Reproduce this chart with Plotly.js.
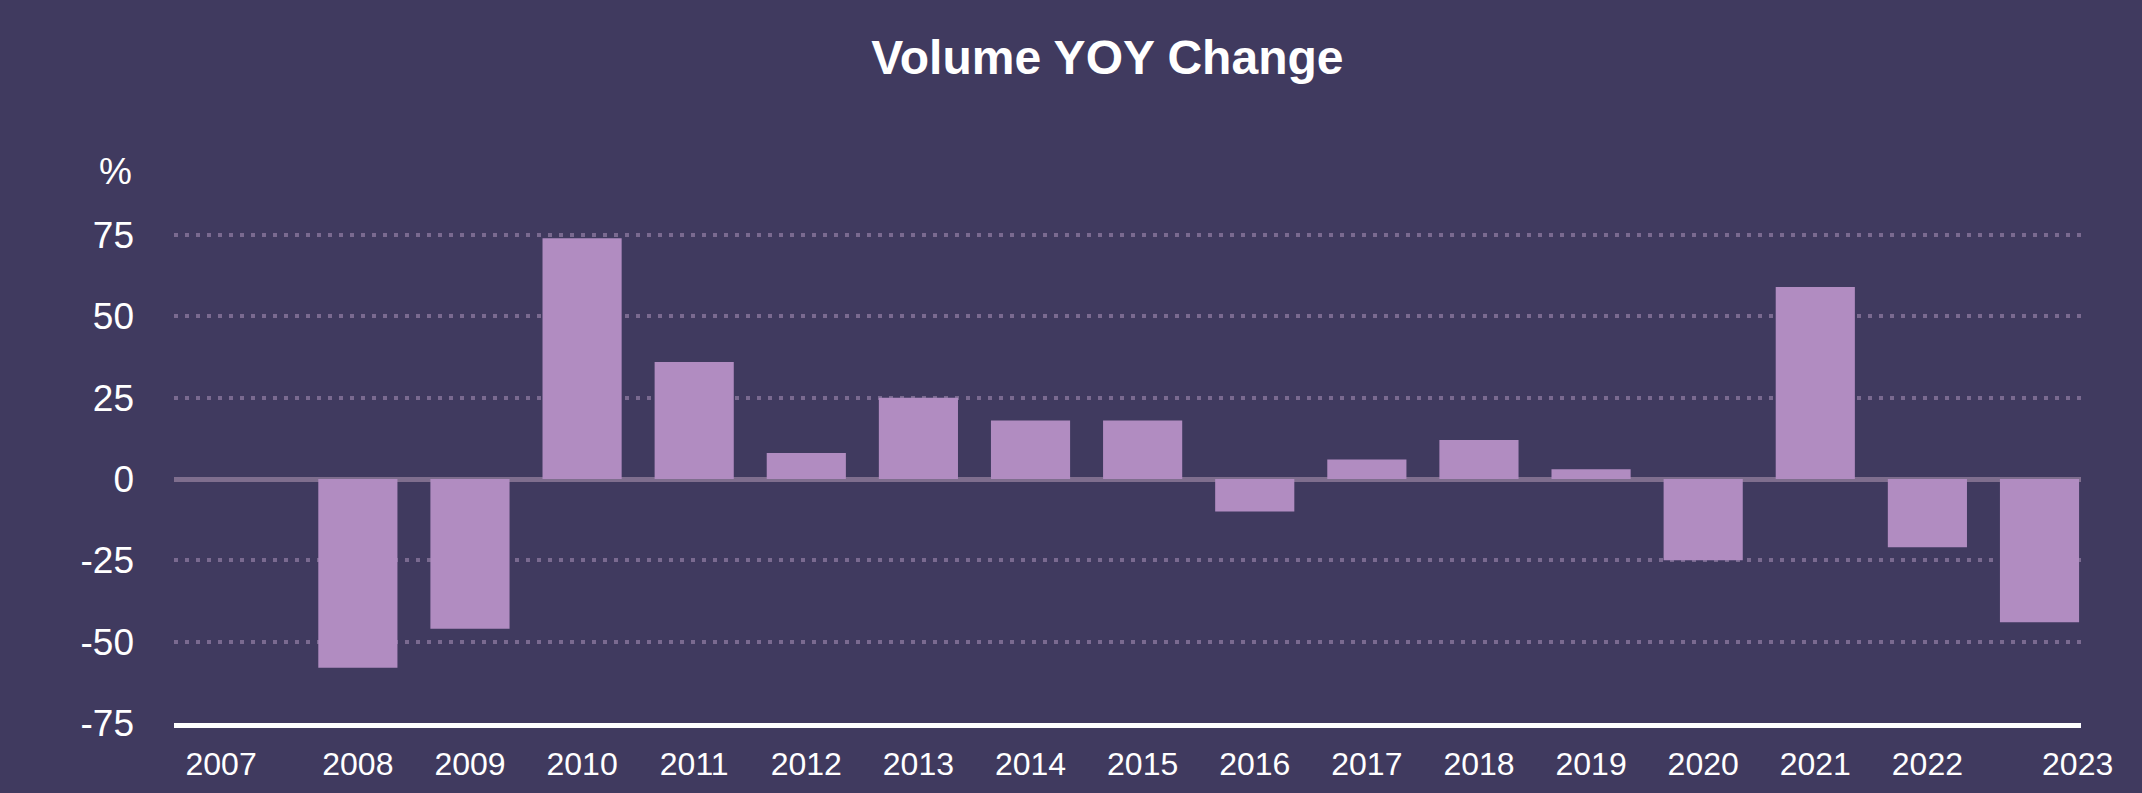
<!DOCTYPE html>
<html>
<head>
<meta charset="utf-8">
<script src="https://cdn.plot.ly/plotly-3.0.1.min.js"></script>
<style>
  html, body { margin: 0; padding: 0; background: #403a5f; }
  #chart { width: 2142px; height: 793px; }
</style>
</head>
<body>
<div id="chart"></div>
<script>
// Data
const years = [2007, 2008, 2009, 2010, 2011, 2012, 2013, 2014, 2015, 2016, 2017, 2018, 2019, 2020, 2021, 2022, 2023];
const yoyChange = [0, -58, -46, 74, 36, 8, 25, 18, 18, -10, 6, 12, 3, -25, 59, -21, -44];
const yTickValues = [-75, -50, -25, 0, 25, 50, 75];
const yTickLabels = ['-75', '-50', '-25', '0', '25', '50', '75'];
const titleText = 'Volume YOY Change';
const unitLabel = '%';

const bg = '#403a5f';
const barColor = '#b18cc1';
const gridColor = '#7a6a90';
const zeroColor = '#7f6e8e';
const fontFamily = '"Liberation Sans", Arial, Helvetica, sans-serif';

// x tick label placement: first and last labels nudged like the reference
const xTickVals = years.map((y, i) => i === 0 ? y - 0.22 : (i === years.length - 1 ? y + 0.34 : y));
const xTickText = years.map(String);

const trace = {
  type: 'bar',
  x: years,
  y: yoyChange,
  width: 0.706,
  marker: { color: barColor, line: { width: 0 } },
  hoverinfo: 'skip'
};

const layout = {
  width: 2142,
  height: 793,
  paper_bgcolor: bg,
  plot_bgcolor: bg,
  margin: { l: 174, r: 61, t: 195, b: 70 },
  showlegend: false,
  font: { family: fontFamily, color: '#ffffff', size: 32 },
  title: {
    text: '<b>' + titleText + '</b>',
    font: { family: fontFamily, size: 48, color: '#ffffff' },
    xref: 'container', x: 0.517, xanchor: 'center',
    yref: 'container', y: 0.928, yanchor: 'middle'
  },
  xaxis: {
    type: 'linear',
    range: [2006.36, 2023.37],
    tickmode: 'array',
    tickvals: xTickVals,
    ticktext: xTickText,
    ticks: '',
    showgrid: false,
    zeroline: false,
    showline: true,
    linecolor: '#ffffff',
    linewidth: 5,
    tickfont: { family: fontFamily, size: 32, color: '#ffffff' },
    ticklabelstandoff: 9,
    fixedrange: true
  },
  yaxis: {
    range: [-75, 87.3],
    tickmode: 'array',
    tickvals: yTickValues,
    ticktext: yTickLabels,
    ticks: '',
    showgrid: true,
    gridcolor: gridColor,
    gridwidth: 4,
    griddash: '4px,7px',
    zeroline: true,
    zerolinecolor: zeroColor,
    zerolinewidth: 5,
    showline: false,
    tickfont: { family: fontFamily, size: 37, color: '#ffffff' },
    ticklabelstandoff: 39,
    fixedrange: true
  },
  annotations: [{
    text: unitLabel,
    xref: 'paper', x: 0, xanchor: 'right', xshift: -40,
    yref: 'paper', y: 1.0436, yanchor: 'middle',
    showarrow: false,
    font: { family: fontFamily, size: 37, color: '#ffffff' }
  }]
};

Plotly.newPlot('chart', [trace], layout, { displayModeBar: false, staticPlot: true });
</script>
</body>
</html>
